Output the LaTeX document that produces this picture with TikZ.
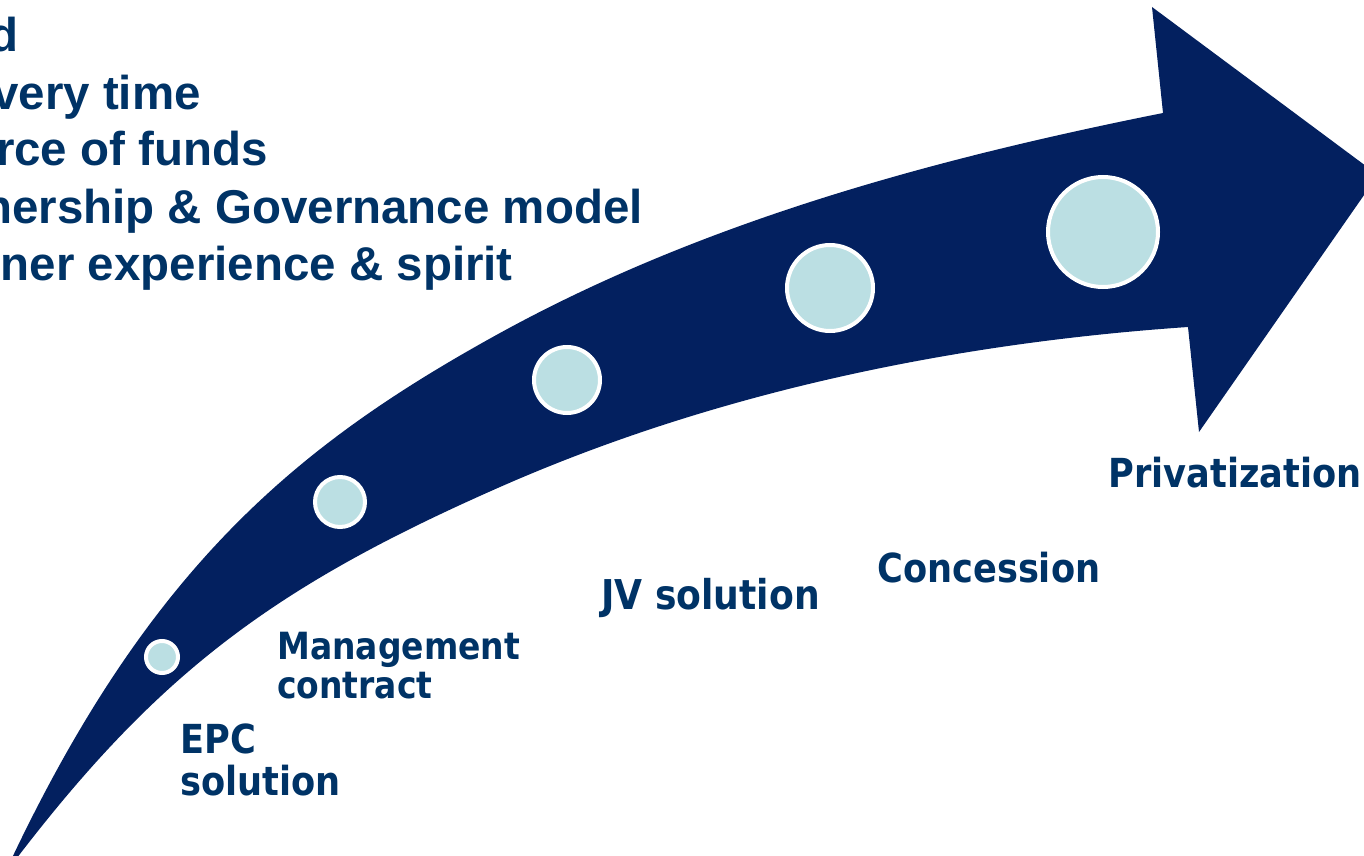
\documentclass[tikz,border=0pt]{standalone}
\usepackage{fontspec}
\newfontfamily\topfont{Liberation Sans}
\newfontfamily\labfont{DejaVu Sans}[FakeStretch=0.88]
\definecolor{navy}{HTML}{03205F}
\definecolor{dotblue}{HTML}{BBDFE3}
\definecolor{txt}{HTML}{003366}
\begin{document}
\begin{tikzpicture}[x=0.75pt,y=-0.75pt,
  toptext/.style={font=\topfont\bfseries\fontsize{35.6}{40}\selectfont, text=txt, anchor=base east, inner sep=0pt},
  lab/.style={font=\labfont\bfseries\fontsize{30}{36}\selectfont, text=txt, anchor=base west, inner sep=0pt},
  labsm/.style={lab, font=\labfont\bfseries\fontsize{28.1}{34}\selectfont},
  labbig/.style={lab, font=\labfont\bfseries\fontsize{30.8}{36}\selectfont},
  dotc/.style={circle, fill=dotblue, draw=white, line width=3pt, inner sep=0pt}]
\useasboundingbox (0,0) rectangle (1364,856);
\clip (0,0) rectangle (1364,856);
% arrow
\fill[navy] (4,875) .. controls (147,566.6) and (298.5,443.9) .. (500,333)
  .. controls (704,221) and (934.4,158.7) .. (1163,113)
  -- (1152,7) -- (1378,175) -- (1199,432) -- (1188,327)
  .. controls (953.5,343) and (715,392.3) .. (500,487)
  .. controls (271,587.8) and (154,675) .. (4,875) -- cycle;
% dots
\node[dotc, minimum size=24pt] (d1) at (162,657) {};
\node[dotc, minimum size=37.5pt] (d2) at (340,502) {};
\node[dotc, minimum size=49.5pt] (d3) at (567,380) {};
\node[dotc, minimum size=64.5pt] (d4) at (830,288) {};
\node[dotc, minimum size=82.5pt] (d5) at (1103,232) {};
% top text
\node[toptext] (t1) at (19,52) {d};
\node[toptext] (t2) at (201,109) {very time};
\node[toptext] (t3) at (268,166) {rce of funds};
\node[toptext] (t4) at (643,223) {nership \& Governance model};
\node[toptext] (t5) at (513,280) {ner experience \& spirit};
% labels
\node[lab] (epc1) at (180,753) {EPC};
\node[lab] (epc2) at (180,795) {solution};
\node[labsm] (mc1) at (277,659) {Management};
\node[labsm] (mc2) at (277,698) {contract};
\node[labbig] (jv) at (601,609) {JV solution};
\node[lab] (con) at (877,582) {Concession};
\node[lab] (pri) at (1108,487) {Privatization};
\end{tikzpicture}
\end{document}
